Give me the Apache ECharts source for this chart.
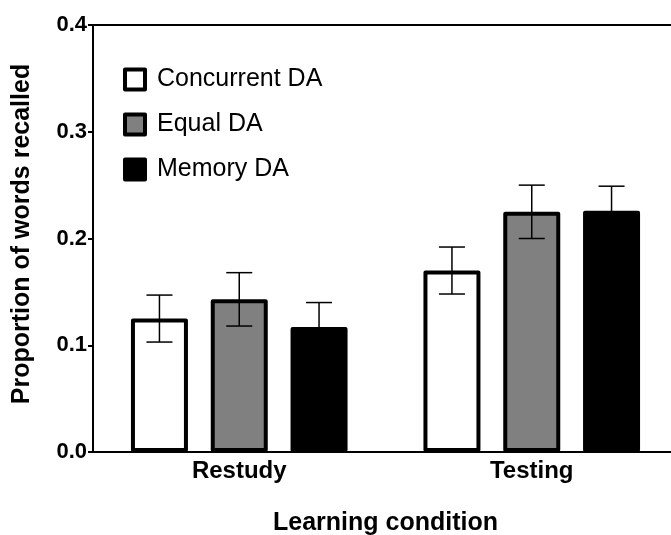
<!DOCTYPE html>
<html>
<head>
<meta charset="utf-8">
<script src="https://cdn.jsdelivr.net/npm/echarts@6/dist/echarts.min.js"></script>
<style>
  html, body { margin: 0; padding: 0; background: #fff; }
</style>
</head>
<body>
<div id="chart" style="width: 671px; height: 535px"></div>
<script>
// data
var categories = ['Restudy', 'Testing']
var seriesNames = ['Concurrent DA', 'Equal DA', 'Memory DA']
var concurrent = [0.125, 0.170]
var equal = [0.143, 0.225]
var memory = [0.117, 0.226]
var concurrentErr = [0.022, 0.022]
var equalErr = [0.025, 0.025]
var memoryErr = [0.023, 0.023]
var yTicks = [0.0, 0.1, 0.2, 0.3, 0.4]

var font = "'Liberation Sans', Arial, sans-serif"
var barWidth = 57
var barGap = 0.4

// error bar items: [category index, series index, mean, error]
var errData = []
var means = [concurrent, equal, memory]
var errs = [concurrentErr, equalErr, memoryErr]
for (var s = 0; s < 3; s++) {
  for (var c = 0; c < categories.length; c++) {
    errData.push([c, s, means[s][c], errs[s][c]])
  }
}

var chart = echarts.init(document.getElementById('chart'))

function barSeries (name, data, fill) {
  return {
    name: name,
    type: 'bar',
    data: data,
    barWidth: barWidth,
    barGap: (barGap * 100) + '%',
    itemStyle: {
      color: fill,
      borderColor: '#000',
      borderWidth: 4,
      borderJoin: 'round'
    },
    emphasis: { disabled: true },
    z: 2
  }
}

chart.setOption({
  animation: false,
  textStyle: { fontFamily: font },
  // plot area runs a bit past the right edge, as in the figure
  grid: { left: 93, top: 25, width: 585, height: 427, outerBoundsMode: 'none', containLabel: false },
  legend: {
    orient: 'vertical',
    left: 123,
    top: 67,
    padding: 0,
    itemWidth: 20,
    itemHeight: 20,
    itemGap: 20,
    icon: 'rect',
    data: seriesNames,
    itemStyle: { borderColor: '#000', borderWidth: 4 },
    textStyle: {
      fontFamily: font,
      fontSize: 25,
      color: '#000',
      padding: [0, 0, 0, 7]
    },
    selectedMode: false
  },
  xAxis: [
    {
      type: 'category',
      data: categories,
      position: 'bottom',
      name: 'Learning condition',
      nameLocation: 'middle',
      nameGap: 59,
      nameTextStyle: { fontFamily: font, fontSize: 25, fontWeight: 'bold', color: '#000' },
      axisLine: { lineStyle: { color: '#000', width: 2 } },
      axisTick: { show: false },
      axisLabel: { fontFamily: font, fontSize: 24, fontWeight: 'bold', color: '#000', margin: 7 }
    },
    {
      type: 'category',
      data: categories,
      position: 'top',
      axisLine: { lineStyle: { color: '#000', width: 2 } },
      axisTick: { show: false },
      axisLabel: { show: false }
    }
  ],
  yAxis: {
    type: 'value',
    min: yTicks[0],
    max: yTicks[yTicks.length - 1],
    interval: 0.1,
    name: 'Proportion of words recalled',
    nameLocation: 'middle',
    nameGap: 58,
    nameTextStyle: { fontFamily: font, fontSize: 25, fontWeight: 'bold', color: '#000', padding: [0, 0, 0, 9] },
    axisLine: { show: true, lineStyle: { color: '#000', width: 2 } },
    axisTick: { show: true, length: 5, lineStyle: { color: '#000', width: 2 } },
    splitLine: { show: false },
    axisLabel: {
      fontFamily: font,
      fontSize: 22,
      fontWeight: 'bold',
      color: '#000',
      margin: 6,
      formatter: function (v) { return v.toFixed(1) }
    }
  },
  series: [
    barSeries(seriesNames[0], concurrent, '#ffffff'),
    barSeries(seriesNames[1], equal, '#808080'),
    barSeries(seriesNames[2], memory, '#000000'),
    {
      type: 'custom',
      name: 'err',
      data: errData,
      encode: { x: 0, y: 2 },
      z: 5,
      renderItem: function (params, api) {
        var cat = api.value(0)
        var idx = api.value(1)
        var mean = api.value(2)
        var err = api.value(3)
        var step = barWidth * (1 + barGap)
        var cx = api.coord([cat, 0])[0] + (idx - 1) * step
        var yTop = api.coord([cat, mean + err])[1]
        var yBot = api.coord([cat, mean - err])[1]
        var half = 13
        var style = { stroke: '#000', lineWidth: 1.5 }
        return {
          type: 'group',
          children: [
            { type: 'line', shape: { x1: cx, y1: yTop, x2: cx, y2: yBot }, style: style },
            { type: 'line', shape: { x1: cx - half, y1: yTop, x2: cx + half, y2: yTop }, style: style },
            { type: 'line', shape: { x1: cx - half, y1: yBot, x2: cx + half, y2: yBot }, style: style }
          ]
        }
      }
    }
  ]
})
</script>
</body>
</html>
